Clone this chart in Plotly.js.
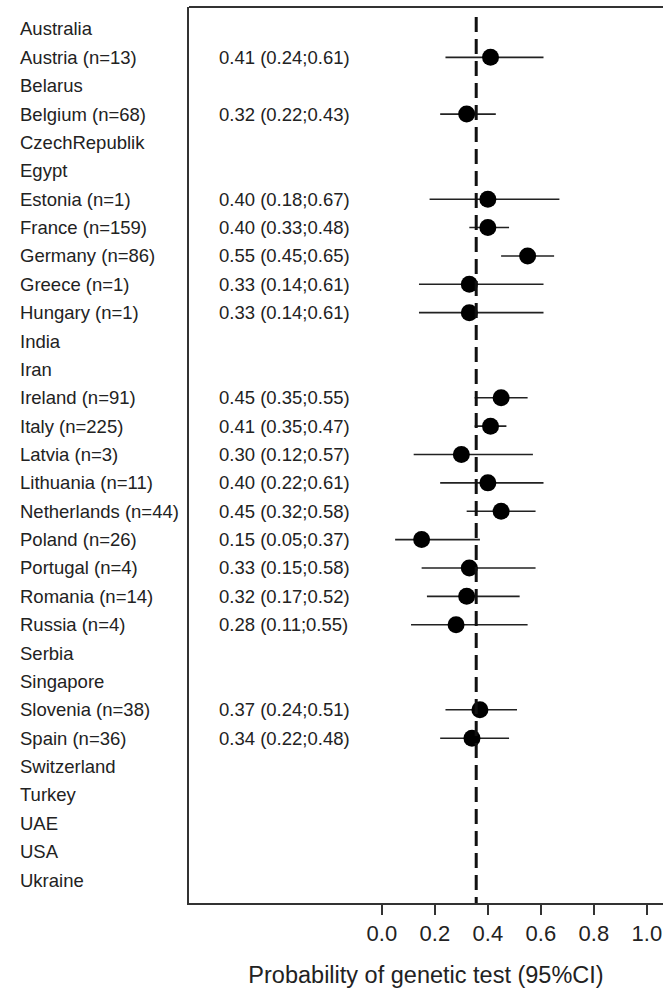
<!DOCTYPE html>
<html>
<head>
<meta charset="utf-8">
<script src="https://cdn.plot.ly/plotly-3.0.1.min.js"></script>
<style>html,body{margin:0;padding:0;background:#fff;}#chart{width:663px;height:989px;}</style>
</head>
<body>
<div id="chart"></div>
<script>
var countries = ["Australia","Austria (n=13)","Belarus","Belgium (n=68)","CzechRepublik","Egypt","Estonia (n=1)","France (n=159)","Germany (n=86)","Greece (n=1)","Hungary (n=1)","India","Iran","Ireland (n=91)","Italy (n=225)","Latvia (n=3)","Lithuania (n=11)","Netherlands (n=44)","Poland (n=26)","Portugal (n=4)","Romania (n=14)","Russia (n=4)","Serbia","Singapore","Slovenia (n=38)","Spain (n=36)","Switzerland","Turkey","UAE","USA","Ukraine"];
var estimate = [null,0.41,null,0.32,null,null,0.40,0.40,0.55,0.33,0.33,null,null,0.45,0.41,0.30,0.40,0.45,0.15,0.33,0.32,0.28,null,null,0.37,0.34,null,null,null,null,null];
var lower =    [null,0.24,null,0.22,null,null,0.18,0.33,0.45,0.14,0.14,null,null,0.35,0.35,0.12,0.22,0.32,0.05,0.15,0.17,0.11,null,null,0.24,0.22,null,null,null,null,null];
var upper =    [null,0.61,null,0.43,null,null,0.67,0.48,0.65,0.61,0.61,null,null,0.55,0.47,0.57,0.61,0.58,0.37,0.58,0.52,0.55,null,null,0.51,0.48,null,null,null,null,null];
var pooled = 0.356;
var xTicks = [0, 0.2, 0.4, 0.6, 0.8, 1.0];

var idx = countries.map(function(_, i){ return i; });
var px = [], py = [], ep = [], em = [];
idx.forEach(function(i){
  if (estimate[i] !== null) {
    px.push(estimate[i]); py.push(i);
    ep.push(upper[i] - estimate[i]); em.push(estimate[i] - lower[i]);
  }
});

var traces = [{
  type: 'scatter', mode: 'markers', x: px, y: py,
  marker: {size: 17, color: '#000'},
  error_x: {type: 'data', array: ep, arrayminus: em, symmetric: false, width: 0, thickness: 1.6, color: '#222'},
  hoverinfo: 'none', showlegend: false
}];

var FONT = 'Liberation Sans, Arial, sans-serif';
var annotations = [];
idx.forEach(function(i){
  annotations.push({xref: 'paper', x: -0.358, yref: 'y', y: i, text: countries[i], showarrow: false,
    xanchor: 'left', yanchor: 'middle', borderpad: 0, font: {family: FONT, size: 18.5, color: '#222'}});
  if (estimate[i] !== null) {
    annotations.push({xref: 'x', x: -0.617, yref: 'y', y: i,
      text: estimate[i].toFixed(2) + ' (' + lower[i].toFixed(2) + ';' + upper[i].toFixed(2) + ')',
      showarrow: false, xanchor: 'left', yanchor: 'middle', borderpad: 0,
      font: {family: FONT, size: 18.5, color: '#222'}});
  }
});

var layout = {
  width: 663, height: 989,
  margin: {l: 189, r: 0, t: 7, b: 86},
  paper_bgcolor: '#fff', plot_bgcolor: '#fff',
  font: {family: FONT, color: '#222'},
  xaxis: {range: [-0.728, 1.061], showgrid: false, zeroline: false,
    showline: true, linecolor: '#333', linewidth: 2,
    tickvals: xTicks, ticktext: xTicks.map(function(v){return v.toFixed(1);}),
    ticks: 'outside', ticklen: 10, tickwidth: 1.5, tickcolor: '#333',
    tickfont: {size: 22, color: '#222'},
    title: {text: 'Probability of genetic test (95%CI)', font: {size: 23.5, color: '#222'}, standoff: 21}},
  yaxis: {range: [30.81, -0.775], showgrid: false, zeroline: false, showticklabels: false,
    showline: true, linecolor: '#333', linewidth: 2, ticks: ''},
  shapes: [
    {type: 'line', xref: 'x', yref: 'y', x0: pooled, x1: pooled, y0: -0.42, y1: 30.85,
     line: {color: '#111', width: 3, dash: '15px,7px'}},
    {type: 'line', xref: 'paper', yref: 'paper', x0: 0, x1: 1, y0: 1, y1: 1,
     line: {color: '#333', width: 2}}
  ],
  annotations: annotations
};

Plotly.newPlot('chart', traces, layout, {staticPlot: true});
</script>
</body>
</html>
